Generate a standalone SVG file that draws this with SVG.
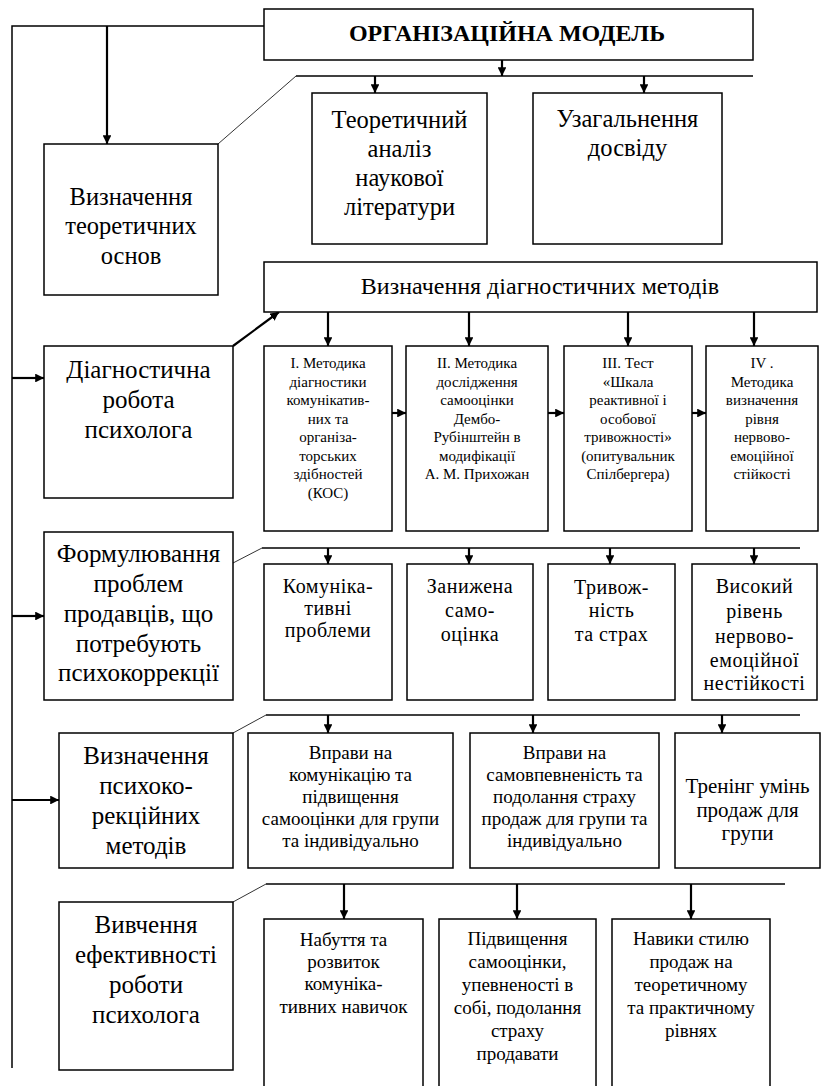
<svg xmlns="http://www.w3.org/2000/svg" width="823" height="1086" viewBox="0 0 823 1086">
<defs>
<marker id="ah" viewBox="0 0 10 10" refX="10" refY="5" markerWidth="4" markerHeight="4" orient="auto" markerUnits="strokeWidth">
<path d="M0,0 L10,5 L0,10 z" fill="#000"/>
</marker>
<style>
.b{fill:#fff;stroke:#000;stroke-width:1.5}
text{font-family:'Liberation Serif','Times New Roman',Tinos,'DejaVu Serif',serif;fill:#000;text-anchor:middle}
.l{stroke:#000;stroke-width:1.5;fill:none}
.d{stroke:#333;stroke-width:1;fill:none}
.a{stroke:#000;stroke-width:2.2;fill:none;marker-end:url(#ah)}
.f25{font-size:25px}
.f24{font-size:24.5px}
.f21{font-size:21px}
.f20{font-size:20px;letter-spacing:0.5px}
.f19{font-size:19px}
.f15{font-size:15px}
</style>
</defs>
<rect width="823" height="1086" fill="#fff"/>

<g id="connectors">
<polyline class="l" points="264,26 12,26 12,1068"/>
<line class="a" x1="107" y1="26" x2="107" y2="144"/>
<line class="a" x1="502" y1="60" x2="502" y2="76"/>
<line class="l" x1="296" y1="76" x2="753" y2="76"/>
<line class="d" x1="218" y1="144" x2="296" y2="76"/>
<line class="a" x1="375" y1="76" x2="375" y2="93"/>
<line class="a" x1="644" y1="76" x2="644" y2="93"/>

<line class="a" x1="12" y1="378" x2="44" y2="378"/>
<line class="a" x1="233" y1="346" x2="279" y2="312"/>
<line class="a" x1="328" y1="312" x2="328" y2="346"/>
<line class="a" x1="469" y1="312" x2="469" y2="346"/>
<line class="a" x1="628" y1="312" x2="628" y2="346"/>
<line class="a" x1="754" y1="312" x2="754" y2="346"/>
<line class="a" x1="392" y1="413" x2="406" y2="413"/>
<line class="a" x1="548" y1="413" x2="564" y2="413"/>
<line class="a" x1="692" y1="413" x2="706" y2="413"/>

<line class="a" x1="12" y1="616" x2="44" y2="616"/>
<line class="d" x1="233" y1="563" x2="262" y2="548"/>
<line class="l" x1="262" y1="548" x2="800" y2="548"/>
<line class="a" x1="328" y1="548" x2="328" y2="564"/>
<line class="a" x1="469" y1="548" x2="469" y2="564"/>
<line class="a" x1="610" y1="548" x2="610" y2="564"/>
<line class="a" x1="754" y1="548" x2="754" y2="564"/>

<line class="a" x1="12" y1="800" x2="59" y2="800"/>
<line class="d" x1="233" y1="733" x2="266" y2="715"/>
<line class="l" x1="266" y1="715" x2="800" y2="715"/>
<line class="a" x1="328" y1="715" x2="328" y2="733"/>
<line class="a" x1="533" y1="715" x2="533" y2="733"/>
<line class="a" x1="722" y1="715" x2="722" y2="733"/>

<line class="d" x1="233" y1="902" x2="266" y2="884"/>
<line class="l" x1="266" y1="884" x2="785" y2="884"/>
<line class="a" x1="344" y1="884" x2="344" y2="919"/>
<line class="a" x1="517" y1="884" x2="517" y2="919"/>
<line class="a" x1="691" y1="884" x2="691" y2="919"/>
</g>

<g id="n_model">
<rect class="b" x="264" y="9" width="489" height="51"/>
<text x="507" y="41" font-weight="bold" font-size="24px">ОРГАНІЗАЦІЙНА МОДЕЛЬ</text>
</g>

<g id="n_theory">
<rect class="b" x="44" y="144" width="174" height="151"/>
<text class="f24" x="131" y="205">Визначення</text>
<text class="f24" x="131" y="234">теоретичних</text>
<text class="f24" x="131" y="264">основ</text>
</g>

<g id="n_lit">
<rect class="b" x="312" y="93" width="175" height="151"/>
<text class="f24" x="399.5" y="128">Теоретичний</text>
<text class="f24" x="399.5" y="157">аналіз</text>
<text class="f24" x="399.5" y="186">наукової</text>
<text class="f24" x="399.5" y="215">літератури</text>
</g>

<g id="n_exp">
<rect class="b" x="533" y="93" width="189" height="151"/>
<text class="f24" x="627.5" y="127">Узагальнення</text>
<text class="f24" x="627.5" y="156">досвіду</text>
</g>

<g id="n_diagmeth">
<rect class="b" x="264" y="262" width="553" height="50"/>
<text x="540" y="294" font-size="24px">Визначення діагностичних методів</text>
</g>

<g id="n_diagwork">
<rect class="b" x="44" y="346" width="189" height="152"/>
<text class="f25" x="138.5" y="378">Діагностична</text>
<text class="f25" x="138.5" y="408">робота</text>
<text class="f25" x="138.5" y="438">психолога</text>
</g>

<g id="n_m1">
<rect class="b" x="264" y="346" width="128" height="185"/>
<text class="f15" x="328" y="368">І. Методика</text>
<text class="f15" x="328" y="386.5">діагностики</text>
<text class="f15" x="328" y="405">комунікатив-</text>
<text class="f15" x="328" y="423.5">них та</text>
<text class="f15" x="328" y="442">організа-</text>
<text class="f15" x="328" y="460.5">торських</text>
<text class="f15" x="328" y="479">здібностей</text>
<text class="f15" x="328" y="497.5">(КОС)</text>
</g>

<g id="n_m2">
<rect class="b" x="406" y="346" width="142" height="185"/>
<text class="f15" x="477" y="368">ІІ.  Методика</text>
<text class="f15" x="477" y="386.5">дослідження</text>
<text class="f15" x="477" y="405">самооцінки</text>
<text class="f15" x="477" y="423.5">Дембо-</text>
<text class="f15" x="477" y="442">Рубінштейн в</text>
<text class="f15" x="477" y="460.5">модифікації</text>
<text class="f15" x="477" y="479">А. М. Прихожан</text>
</g>

<g id="n_m3">
<rect class="b" x="564" y="346" width="128" height="185"/>
<text class="f15" x="628" y="368">ІІІ. Тест</text>
<text class="f15" x="628" y="386.5">«Шкала</text>
<text class="f15" x="628" y="405">реактивної і</text>
<text class="f15" x="628" y="423.5">особової</text>
<text class="f15" x="628" y="442">тривожності»</text>
<text class="f15" x="628" y="460.5">(опитувальник</text>
<text class="f15" x="628" y="479">Спілбергера)</text>
</g>

<g id="n_m4">
<rect class="b" x="706" y="346" width="112" height="185"/>
<text class="f15" x="762" y="368">IV .</text>
<text class="f15" x="762" y="386.5">Методика</text>
<text class="f15" x="762" y="405">визначення</text>
<text class="f15" x="762" y="423.5">рівня</text>
<text class="f15" x="762" y="442">нервово-</text>
<text class="f15" x="762" y="460.5">емоційної</text>
<text class="f15" x="762" y="479">стійкості</text>
</g>

<g id="n_problems">
<rect class="b" x="44" y="532" width="189" height="168"/>
<text class="f25" x="138.5" y="562">Формулювання</text>
<text class="f25" x="138.5" y="592">проблем</text>
<text class="f25" x="138.5" y="622">продавців, що</text>
<text class="f25" x="138.5" y="652">потребують</text>
<text class="f25" x="138.5" y="681">психокоррекції</text>
</g>

<g id="n_p1">
<rect class="b" x="264" y="564" width="128" height="136"/>
<text class="f20" x="328" y="593">Комуніка-</text>
<text class="f20" x="328" y="615">тивні</text>
<text class="f20" x="328" y="637">проблеми</text>
</g>

<g id="n_p2">
<rect class="b" x="407" y="564" width="126" height="136"/>
<text class="f20" x="470" y="593">Занижена</text>
<text class="f20" x="470" y="617">само-</text>
<text class="f20" x="470" y="641">оцінка</text>
</g>

<g id="n_p3">
<rect class="b" x="548" y="564" width="127" height="136"/>
<text class="f20" x="611.5" y="594">Тривож-</text>
<text class="f20" x="611.5" y="617">ність</text>
<text class="f20" x="611.5" y="641">та страх</text>
</g>

<g id="n_p4">
<rect class="b" x="692" y="564" width="125" height="136"/>
<text class="f20" x="754.5" y="593">Високий</text>
<text class="f20" x="754.5" y="618">рівень</text>
<text class="f20" x="754.5" y="643">нервово-</text>
<text class="f20" x="754.5" y="667">емоційної</text>
<text class="f20" x="754.5" y="690">нестійкості</text>
</g>

<g id="n_corr">
<rect class="b" x="59" y="733" width="174" height="135"/>
<text class="f25" x="146" y="764">Визначення</text>
<text class="f25" x="146" y="794">психоко-</text>
<text class="f25" x="146" y="824">рекційних</text>
<text class="f25" x="146" y="854">методів</text>
</g>

<g id="n_c1">
<rect class="b" x="248" y="733" width="205" height="135"/>
<text class="f19" x="350.5" y="759">Вправи на</text>
<text class="f19" x="350.5" y="781">комунікацію та</text>
<text class="f19" x="350.5" y="803">підвищення</text>
<text class="f19" x="350.5" y="825">самооцінки для групи</text>
<text class="f19" x="350.5" y="847">та індивідуально</text>
</g>

<g id="n_c2">
<rect class="b" x="470" y="733" width="189" height="135"/>
<text class="f19" x="564.5" y="759">Вправи на</text>
<text class="f19" x="564.5" y="781">самовпевненість та</text>
<text class="f19" x="564.5" y="803">подолання страху</text>
<text class="f19" x="564.5" y="825">продаж для групи та</text>
<text class="f19" x="564.5" y="847">індивідуально</text>
</g>

<g id="n_c3">
<rect class="b" x="675" y="733" width="145" height="135"/>
<text class="f21" x="747.5" y="793">Тренінг умінь</text>
<text class="f21" x="747.5" y="817">продаж для</text>
<text class="f21" x="747.5" y="840">групи</text>
</g>

<g id="n_eff">
<rect class="b" x="59" y="902" width="174" height="168"/>
<text class="f25" x="146" y="933">Вивчення</text>
<text class="f25" x="146" y="963">ефективності</text>
<text class="f25" x="146" y="993">роботи</text>
<text class="f25" x="146" y="1023">психолога</text>
</g>

<g id="n_r1">
<rect class="b" x="264" y="919" width="159" height="180"/>
<text class="f19" x="343.5" y="946">Набуття та</text>
<text class="f19" x="343.5" y="968">розвиток</text>
<text class="f19" x="343.5" y="990">комуніка-</text>
<text class="f19" x="343.5" y="1013">тивних навичок</text>
</g>

<g id="n_r2">
<rect class="b" x="439" y="919" width="157" height="180"/>
<text class="f19" x="517.5" y="945">Підвищення</text>
<text class="f19" x="517.5" y="968">самооцінки,</text>
<text class="f19" x="517.5" y="991">упевненості в</text>
<text class="f19" x="517.5" y="1014">собі, подолання</text>
<text class="f19" x="517.5" y="1037">страху</text>
<text class="f19" x="517.5" y="1060">продавати</text>
</g>

<g id="n_r3">
<rect class="b" x="612" y="919" width="158" height="180"/>
<text class="f19" x="691" y="945">Навики  стилю</text>
<text class="f19" x="691" y="968">продаж на</text>
<text class="f19" x="691" y="991">теоретичному</text>
<text class="f19" x="691" y="1014">та практичному</text>
<text class="f19" x="691" y="1037">рівнях</text>
</g>
</svg>
